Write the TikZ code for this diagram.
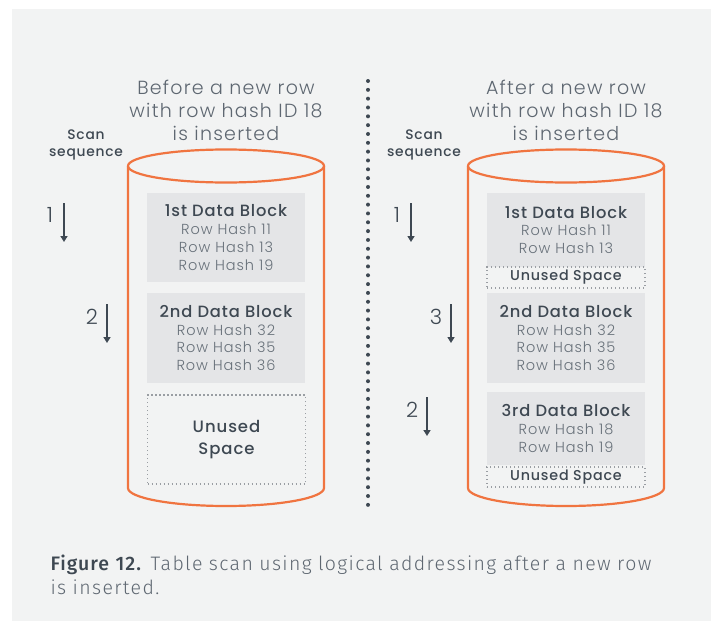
\documentclass[tikz,border=0pt]{standalone}
\usepackage{fontspec}
\usetikzlibrary{arrows.meta}
\setmainfont{Poppins}
\newfontfamily\lightf{Poppins Light}[LetterSpace=6.5]
\newfontfamily\medf{Poppins Medium}[LetterSpace=5.5]
\newfontfamily\capf{Fira Sans Light}[LetterSpace=7]
\newfontfamily\capbf{Fira Sans Medium}[LetterSpace=5]
\definecolor{panel}{HTML}{F2F3F3}
\definecolor{drum}{HTML}{F07440}
\definecolor{blockfill}{HTML}{E4E5E7}
\definecolor{ink}{HTML}{3E4852}
\definecolor{soft}{HTML}{5E6771}
\definecolor{rowtxt}{HTML}{68717A}
\definecolor{dotgray}{HTML}{9A9EA3}
\newcommand{\hd}[1]{{\medf\color{ink}\fontsize{16.3}{18}\selectfont #1}}
\begin{document}
\begin{tikzpicture}[x=1pt,y=-1pt,
  title/.style={font=\lightf\fontsize{19}{23}\selectfont, text=soft, align=center},
  scanlbl/.style={font=\medf\fontsize{13.8}{17}\selectfont, text=ink, align=center},
  datablock/.style={fill=blockfill, minimum width=158pt, inner sep=0pt, align=center,
    font=\lightf\fontsize{14.5}{17.7}\selectfont, text=rowtxt},
  freespace/.style={draw=dotgray, line width=1.3pt, dash pattern=on 1.3pt off 2.7pt,
    minimum width=158pt, inner sep=0pt, align=center, text=ink},
  drumline/.style={draw=drum, line width=2.2pt},
  seqnum/.style={font=\lightf\fontsize{21}{21}\selectfont, text=ink},
  seqarrow/.style={draw=ink, line width=1.6pt, -{Triangle[length=6pt,width=7pt]}},
]
\useasboundingbox (0,0) rectangle (711,621);
\fill[white] (0,0) rectangle (711,621);
\fill[panel] (12,9) rectangle (711,621);

% divider between the two states
\coordinate (divtop) at (368,81);
\coordinate (divbot) at (368,505);
\draw[ink, line width=4pt, line cap=round, dash pattern=on 0pt off 8.83pt] (divtop) -- (divbot);

% ---------- left: before the insert ----------
\node[title] (ltitle) at (226,110) {Before a new row\\with row hash ID 18\\is inserted};
\node[scanlbl] (lscan) at (86,145) {Scan\\sequence};

\draw[drumline] (128,166) -- (128,488) arc[start angle=180, end angle=360, x radius=98pt, y radius=18pt] -- (324,166);
\draw[drumline] (226,166) ellipse [x radius=98pt, y radius=16.5pt];

\node[datablock, minimum height=89pt] (l1) at (226,237.5)
  {\hd{1st Data Block}\\Row Hash 11\\Row Hash 13\\Row Hash 19};
\node[datablock, minimum height=90pt] (l2) at (226,338)
  {\hd{2nd Data Block}\\Row Hash 32\\Row Hash 35\\Row Hash 36};
\node[freespace, minimum height=89pt, font=\medf\fontsize{16.5}{22}\selectfont] (lfree) at (226.5,439.5)
  {Unused\\Space};

\node[seqnum] (ln1) at (50,215) {1};
\coordinate (la1s) at (64,203); \coordinate (la1e) at (64,242);
\draw[seqarrow] (la1s) -- (la1e);
\node[seqnum] (ln2) at (92,317) {2};
\coordinate (la2s) at (107,304); \coordinate (la2e) at (107,343);
\draw[seqarrow] (la2s) -- (la2e);

% ---------- right: after the insert ----------
\node[title] (rtitle) at (566,110) {After a new row\\with row hash ID 18\\is inserted};
\node[scanlbl] (rscan) at (424,145) {Scan\\sequence};

\draw[drumline] (468,166) -- (468,488) arc[start angle=180, end angle=360, x radius=98pt, y radius=18pt] -- (664,166);
\draw[drumline] (566,166) ellipse [x radius=98pt, y radius=16.5pt];

\node[datablock, minimum height=74pt] (r1) at (566,230)
  {\hd{1st Data Block}\\Row Hash 11\\Row Hash 13};
\node[freespace, minimum height=21pt, font=\medf\fontsize{14.3}{17}\selectfont] (rfree1) at (566,277.5)
  {Unused Space};
\node[datablock, minimum height=90pt] (r2) at (566,338)
  {\hd{2nd Data Block}\\Row Hash 32\\Row Hash 35\\Row Hash 36};
\node[datablock, minimum height=73pt] (r3) at (566,428.5)
  {\hd{3rd Data Block}\\Row Hash 18\\Row Hash 19};
\node[freespace, minimum height=20pt, font=\medf\fontsize{14.3}{17}\selectfont] (rfree2) at (566,477)
  {Unused Space};

\node[seqnum] (rn1) at (397,215) {1};
\coordinate (ra1s) at (411,203); \coordinate (ra1e) at (411,242);
\draw[seqarrow] (ra1s) -- (ra1e);
\node[seqnum] (rn3) at (436,317) {3};
\coordinate (ra3s) at (451,304); \coordinate (ra3e) at (451,343);
\draw[seqarrow] (ra3s) -- (ra3e);
\node[seqnum] (rn2) at (412,410) {2};
\coordinate (ra2s) at (427,397); \coordinate (ra2e) at (427,436);
\draw[seqarrow] (ra2s) -- (ra2e);

% ---------- caption ----------
\node[anchor=north west, align=left, text=soft, text width=650pt,
  font=\capf\fontsize{19.5}{24}\selectfont] (cap) at (47,551)
  {{\capbf\color{ink}Figure 12.} Table scan using logical addressing after a new row\\is inserted.};
\end{tikzpicture}
\end{document}
